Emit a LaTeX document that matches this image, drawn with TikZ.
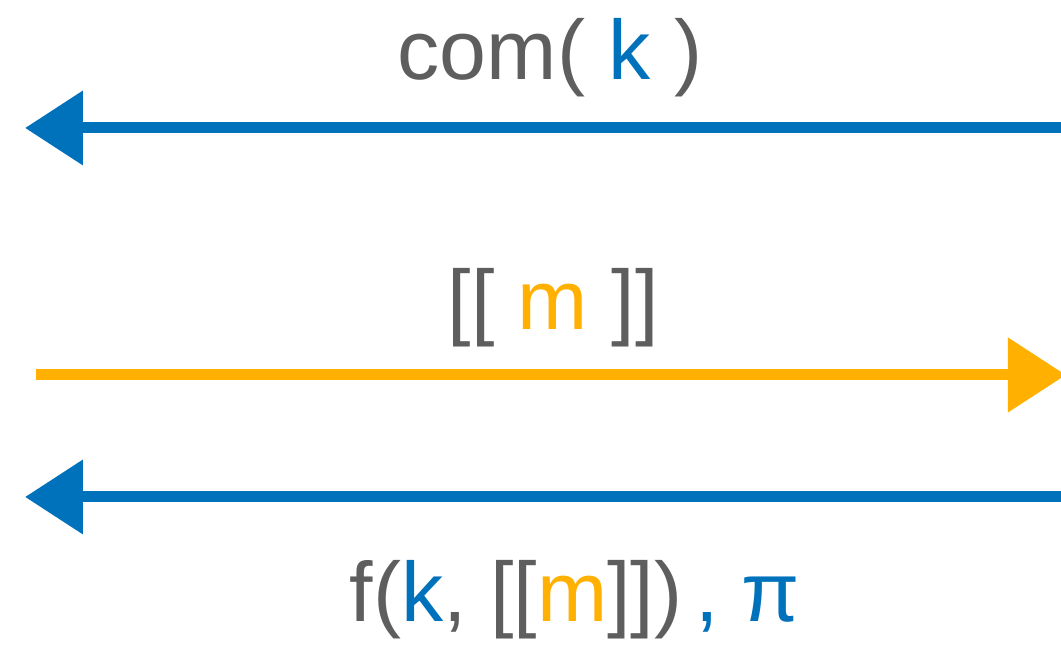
\documentclass[tikz,border=0pt]{standalone}
\usepackage{fontspec}
\setmainfont{Liberation Sans}
\usepackage{xcolor}
\usetikzlibrary{arrows.meta}

\definecolor{msggray}{RGB}{94,94,94}
\definecolor{keyblue}{RGB}{0,114,187}
\definecolor{msgorange}{RGB}{255,176,0}

\begin{document}
\begin{tikzpicture}[
    label text/.style={anchor=base, inner sep=0pt, text=msggray, font=\fontsize{24}{29}\selectfont},
    chalk/.style={line width=1.1mm, -{Triangle[length=5.8mm, width=7.2mm]}},
]
    \useasboundingbox (0, 0) rectangle (10.61, 6.45);

    \coordinate (comR) at (10.75, 5.17);
    \coordinate (comL) at (0.25, 5.17);
    \coordinate (encL) at (0.36, 2.70);
    \coordinate (encR) at (10.66, 2.70);
    \coordinate (resR) at (10.75, 1.48);
    \coordinate (resL) at (0.25, 1.48);

    \node[label text] (commit) at (5.50, 5.65) {com( \textcolor{keyblue}{k} )};
    \draw[chalk, keyblue] (comR) -- (comL);

    \node[label text] (enc) at (5.53, 3.15) {[[ \textcolor{msgorange}{m} ]]};
    \draw[chalk, msgorange] (encL) -- (encR);

    \draw[chalk, keyblue] (resR) -- (resL);
    \node[label text] (resp) at (5.75, 0.23) {f(\textcolor{keyblue}{k}, [[\textcolor{msgorange}{m}]])\hspace{0.15em}\textcolor{keyblue}{, π}};
\end{tikzpicture}
\end{document}
